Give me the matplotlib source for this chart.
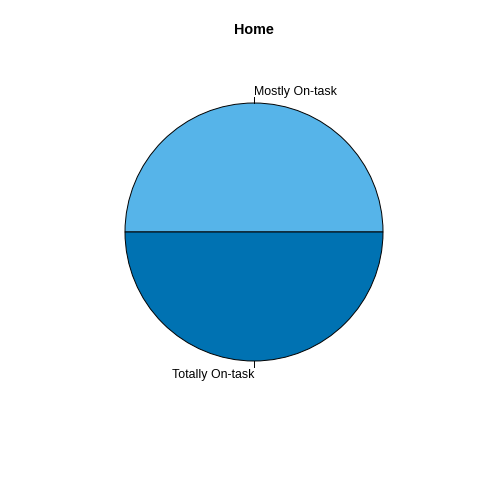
import matplotlib
matplotlib.use("Agg")
import matplotlib.pyplot as plt
import numpy as np

labels = ["Mostly On-task", "Totally On-task"]
values = [1, 1]
colors = ["#56B4E9", "#0072B2"]
title = "Home"

plt.rcParams["font.family"] = ["Liberation Sans", "DejaVu Sans"]

fig = plt.figure(figsize=(4.8, 4.8), dpi=100)
ax = fig.add_axes([0, 0, 1, 1])

cx, cy, r = 254, 480 - 232, 129
wedges, texts = ax.pie(values, labels=labels, colors=colors, startangle=0,
                       counterclock=True, center=(cx, cy), radius=r,
                       labeldistance=1.1, frame=True,
                       wedgeprops=dict(edgecolor="black", linewidth=0.7),
                       textprops=dict(fontsize=8.9))
ax.set_xlim(0, 480)
ax.set_ylim(0, 480)
ax.set_aspect("equal")
ax.axis("off")

# slice mid angles, like R's pie()
fr = np.cumsum(values) / np.sum(values)
mids = 2 * np.pi * (fr - np.array(values) / np.sum(values) / 2)

# small tick marks from the rim toward each label, R-style alignment
for mid, t in zip(mids, texts):
    ax.plot([cx + r * np.cos(mid), cx + 1.05 * r * np.cos(mid)],
            [cy + r * np.sin(mid), cy + 1.05 * r * np.sin(mid)],
            color="black", linewidth=0.7)
    t.set_horizontalalignment("right" if np.cos(mid) < 0 else "left")
    x, y = t.get_position()
    t.set_position((x, y - 1.5))

ax.text(254, 480 - 30, title, ha="center", va="center",
        fontsize=10.4, fontweight="bold")

fig.savefig("out.png", dpi=100)
